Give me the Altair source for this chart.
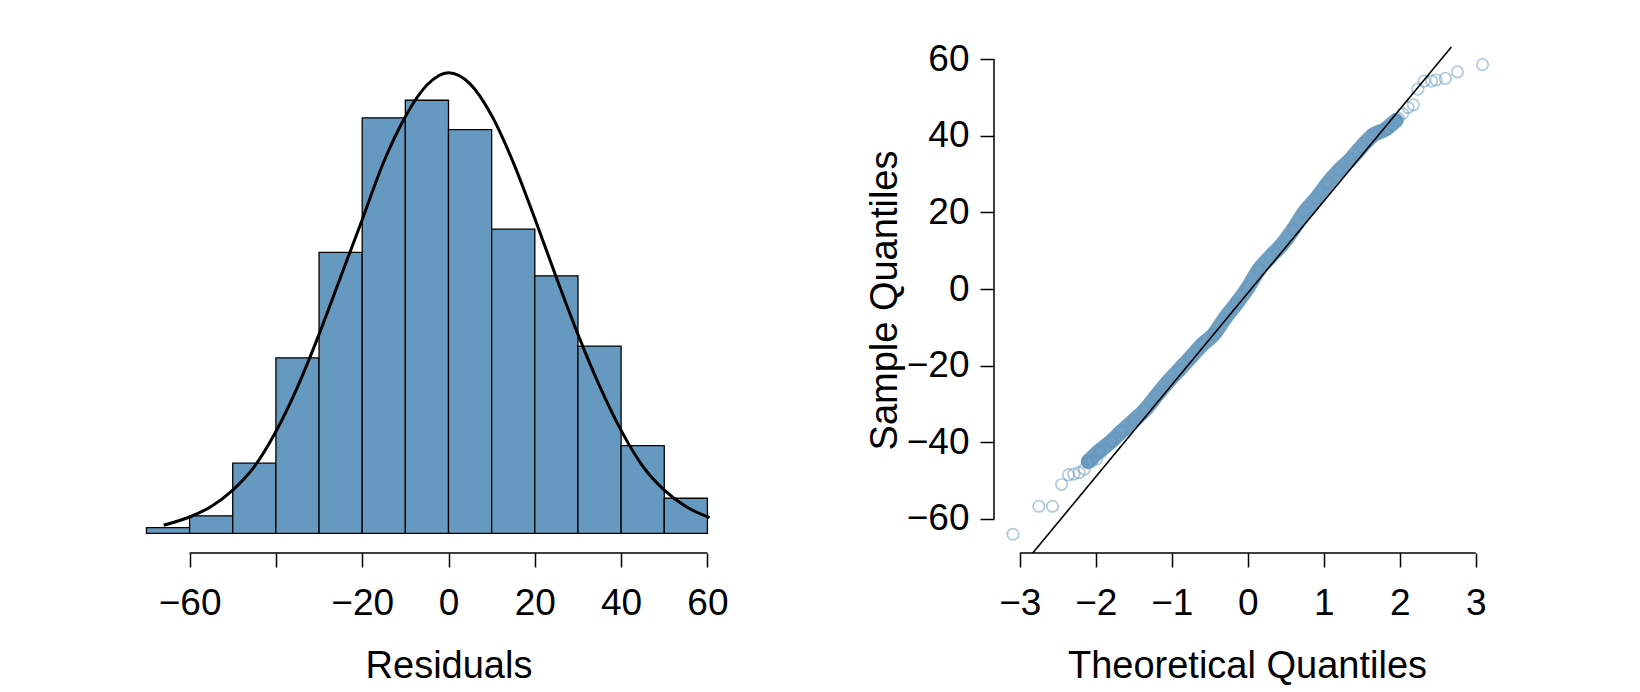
import altair as alt
import pandas as pd

# ---------------- data ----------------
# Histogram of residuals (bins of width 10)
bin_start = [-70, -60, -50, -40, -30, -20, -10, 0, 10, 20, 30, 40, 50]
bin_end = [-60, -50, -40, -30, -20, -10, 0, 10, 20, 30, 40, 50, 60]
bin_count = [1, 3, 12, 30, 48, 71, 74, 69, 52, 44, 32, 15, 6]

# Overlaid normal curve (in count units)
curve_x = [-66, -60, -55, -50, -45, -40, -35, -30, -25, -20, -15, -10, -5, 0,
           5, 10, 15, 20, 25, 30, 35, 40, 45, 50, 55, 60.5]
curve_y = [1.4, 2.8, 4.6, 7.4, 11.4, 17.4, 25.0, 34.0, 43.8, 53.6, 63.5, 71.2,
           76.6, 78.7, 76.8, 71.4, 63.4, 53.8, 43.7, 34.0, 25.2, 17.6, 11.5,
           7.4, 4.6, 2.7]

hist_ticks = [-60, -40, -20, 0, 20, 40, 60]

# Normal Q-Q plot: individually visible tail points
tail_x = [-3.09, -2.75, -2.57, -2.45, -2.36, -2.29, -2.22, -2.15, -2.10, -2.05,
          -1.99, -1.93, -1.87, -1.80, -1.74, -1.68,
          1.72, 1.83, 1.91, 1.98, 2.04, 2.11, 2.18, 2.24, 2.32, 2.42, 2.48,
          2.60, 2.76, 3.09]
tail_y = [-64.0, -56.7, -56.7, -51.0, -48.5, -48.3, -47.9, -47.0, -45.4, -44.9,
          -44.3, -42.6, -41.4, -39.8, -38.7, -37.3,
          40.9, 41.7, 43.0, 44.6, 45.8, 47.4, 48.1, 52.2, 54.3, 54.3, 54.6,
          55.0, 56.7, 58.6]

# Dense middle band of the Q-Q points (centre line)
band_x = [-2.10, -1.95, -1.80, -1.65, -1.50, -1.35, -1.20, -1.05, -0.90, -0.75,
          -0.60, -0.45, -0.30, -0.15, 0.00, 0.15, 0.30, 0.45, 0.60, 0.75, 0.90,
          1.05, 1.20, 1.35, 1.50, 1.65, 1.80, 1.95]
band_y = [-45.0, -42.2, -39.8, -37.0, -34.3, -31.5, -27.8, -24.2, -21.0, -17.8,
          -14.5, -11.9, -7.6, -3.8, 0.3, 5.2, 8.5, 11.6, 15.6, 20.2, 23.6,
          27.6, 31.0, 33.8, 37.2, 40.2, 41.6, 44.0]

# Reference line (end points where it meets the plot region)
qqline_x = [-2.83, 2.68]
qqline_y = [-68.9, 63.2]

qq_xticks = [-3, -2, -1, 0, 1, 2, 3]
qq_yticks = [-60, -40, -20, 0, 20, 40, 60]

# ---------------- styling ----------------
BAR_FILL = "#6699bf"
PT_COLOR = "#6497bd"
W_HIST, W_QQ, H = 649, 506, 506
FONT = "Liberation Sans"

hist_df = pd.DataFrame({"start": bin_start, "end": bin_end, "count": bin_count})
curve_df = pd.DataFrame({"x": curve_x, "y": curve_y})
tail_df = pd.DataFrame({"x": tail_x, "y": tail_y})
band_df = pd.DataFrame({"x": band_x, "y": band_y})
line_df = pd.DataFrame({"x": qqline_x, "y": qqline_y})
hax_df = pd.DataFrame({"a": [min(hist_ticks)], "b": [max(hist_ticks)]})
qxax_df = pd.DataFrame({"a": [min(qq_xticks)], "b": [max(qq_xticks)]})
qyax_df = pd.DataFrame({"a": [min(qq_yticks)], "b": [max(qq_yticks)]})

hx = alt.Scale(domain=[-75.2, 75.2], nice=False, zero=False)
hy = alt.Scale(domain=[-3.35, 83.1], nice=False, zero=False)

bars = alt.Chart(hist_df).mark_rect(
    fill=BAR_FILL, stroke="black", strokeWidth=1.3
).encode(
    x=alt.X("start:Q", scale=hx,
            axis=alt.Axis(values=hist_ticks, title="Residuals", domain=False,
                          format="d",
                          labelExpr="datum.value == -40 ? '' : datum.label")),
    x2="end:Q",
    y=alt.Y("zero:Q", scale=hy, axis=None),
    y2="count:Q",
).transform_calculate(zero="0")

curve = alt.Chart(curve_df).mark_line(
    color="black", strokeWidth=3, interpolate="monotone"
).encode(x=alt.X("x:Q", scale=hx), y=alt.Y("y:Q", scale=hy))

hist_axis = alt.Chart(hax_df).mark_rule(color="black", strokeWidth=1.5).encode(
    x=alt.X("a:Q", scale=hx), x2="b:Q", y=alt.value(H)
)

hist = alt.layer(bars, curve, hist_axis).properties(width=W_HIST, height=H)

qx = alt.Scale(domain=[-3.34, 3.32], nice=False, zero=False)
qy = alt.Scale(domain=[-68.9, 63.2], nice=False, zero=False)

band_line = alt.Chart(band_df).mark_line(
    color=PT_COLOR, strokeWidth=15, opacity=0.92, strokeCap="round",
    interpolate="monotone"
).encode(
    x=alt.X("x:Q", scale=qx,
            axis=alt.Axis(values=qq_xticks, title="Theoretical Quantiles",
                          domain=False, format="d")),
    y=alt.Y("y:Q", scale=qy,
            axis=alt.Axis(values=qq_yticks, title="Sample Quantiles",
                          domain=False, format="d",
                          labelPadding=11, titlePadding=2)),
)

band_pts = alt.Chart(band_df).mark_point(
    shape="circle", filled=False, size=130, strokeWidth=1.7,
    color=PT_COLOR, opacity=0.55
).encode(x=alt.X("x:Q", scale=qx), y=alt.Y("y:Q", scale=qy))

tail_pts = alt.Chart(tail_df).mark_point(
    shape="circle", filled=False, size=130, strokeWidth=1.7,
    color=PT_COLOR, opacity=0.5
).encode(x=alt.X("x:Q", scale=qx), y=alt.Y("y:Q", scale=qy))

qqline = alt.Chart(line_df).mark_line(color="black", strokeWidth=1.6).encode(
    x=alt.X("x:Q", scale=qx), y=alt.Y("y:Q", scale=qy)
)

qx_axis = alt.Chart(qxax_df).mark_rule(color="black", strokeWidth=1.5).encode(
    x=alt.X("a:Q", scale=qx), x2="b:Q", y=alt.value(H)
)
qy_axis = alt.Chart(qyax_df).mark_rule(color="black", strokeWidth=1.5).encode(
    y=alt.Y("a:Q", scale=qy), y2="b:Q", x=alt.value(0)
)

qq = alt.layer(band_line, band_pts, tail_pts, qqline, qx_axis, qy_axis).properties(
    width=W_QQ, height=H
)

chart = alt.hconcat(hist, qq, spacing=221, bounds="flush").properties(
    padding={"left": 116, "top": 32, "right": 0, "bottom": 0},
    background="white",
).configure_view(stroke=None).configure_axis(
    grid=False,
    labelFont=FONT, titleFont=FONT,
    labelFontSize=37, titleFontSize=38,
    labelColor="black", titleColor="black",
    titleFontWeight="normal",
    tickColor="black", tickWidth=1.5, tickSize=14,
    labelPadding=18, titlePadding=26,
)

chart.save("out.html", embed_options={"renderer": "svg", "actions": False})
